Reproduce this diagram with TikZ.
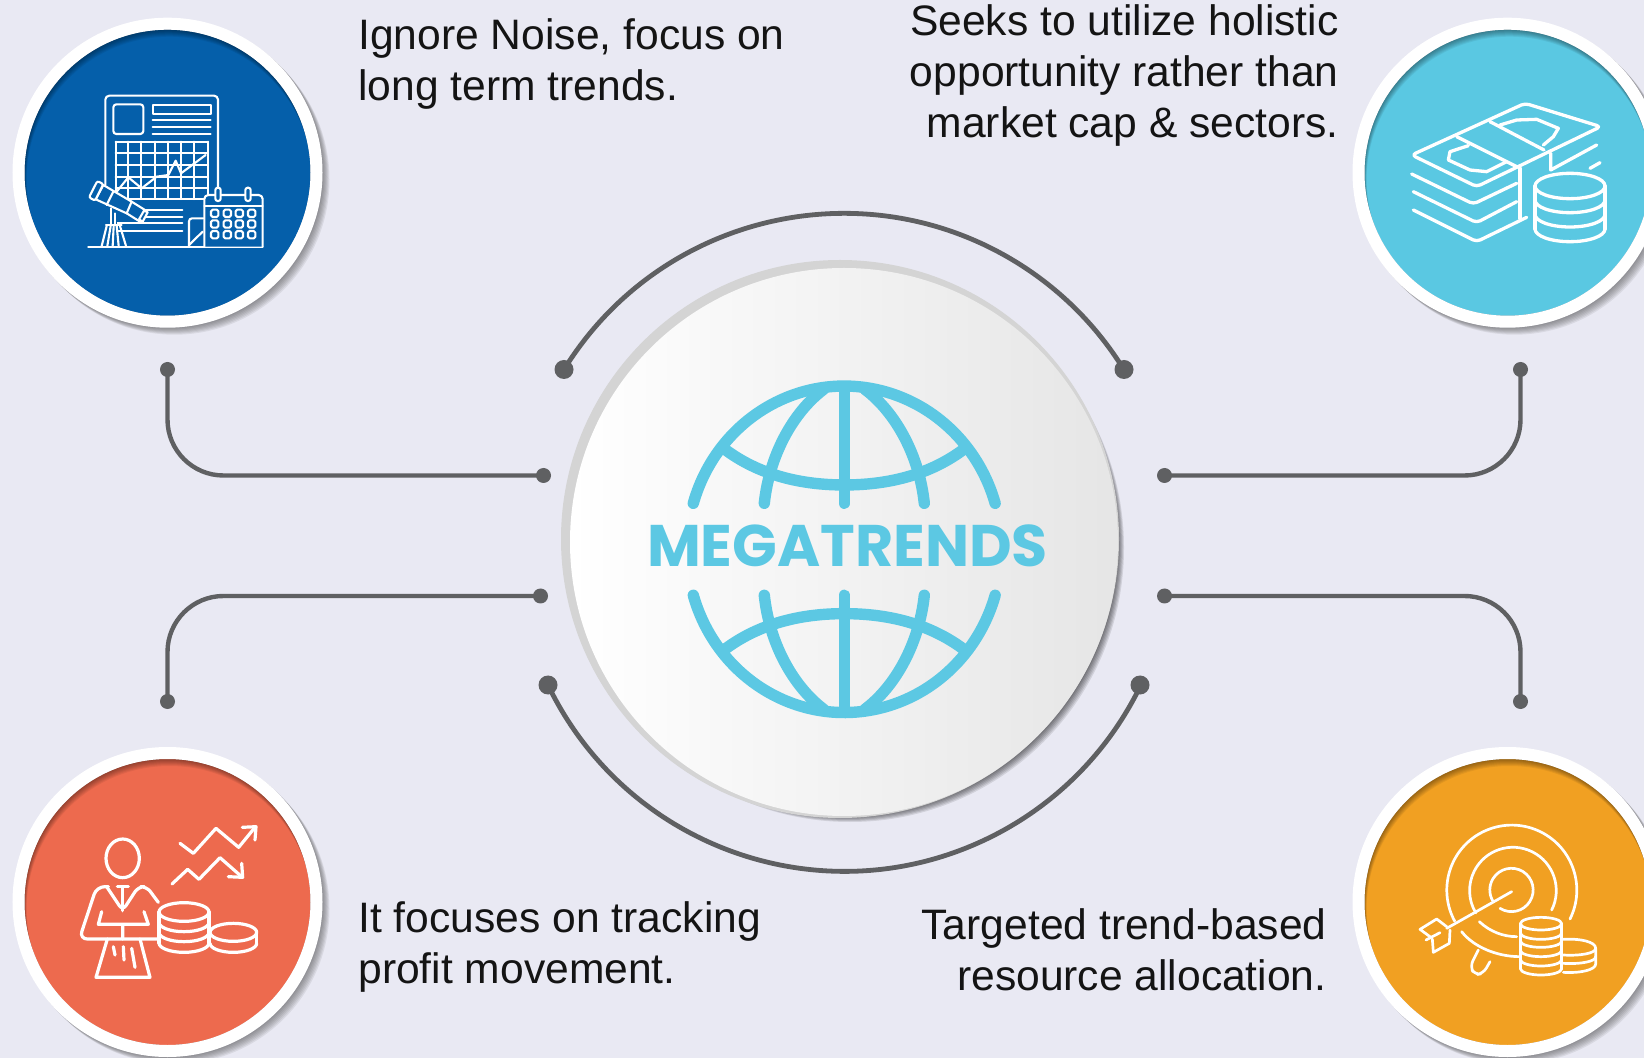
\documentclass[tikz,border=0pt]{standalone}
\usepackage{fontspec}
\setmainfont{Liberation Sans}
\newfontfamily\titlefont{Poppins}
\usetikzlibrary{positioning}

\definecolor{pagebg}{HTML}{E9E9F3}
\definecolor{wiregray}{HTML}{5F6062}
\definecolor{textblack}{HTML}{141414}
\definecolor{globecyan}{HTML}{5CC8E3}
\definecolor{badgeblue}{HTML}{055FAA}
\definecolor{badgecyan}{HTML}{5AC8E2}
\definecolor{badgered}{HTML}{ED6A4E}
\definecolor{badgeorange}{HTML}{F1A022}

\tikzset{
  wire/.style={draw=wiregray,line width=2.2pt,rounded corners=28pt},
  bigwire/.style={draw=wiregray,line width=2.4pt},
  smalldot/.style={circle,fill=wiregray,inner sep=0pt,minimum size=7.5pt},
  bigdot/.style={circle,fill=wiregray,inner sep=0pt,minimum size=9.5pt},
  ring/.style={circle,draw=white,line width=6pt,inner sep=0pt,minimum size=149pt},
  caption/.style={font=\fontsize{21.3pt}{25.6pt}\selectfont,text=textblack,inner sep=0pt},
  zoomed/.style={x=0.16667pt,y=-0.16667pt},
  icon/.style={draw=white,line cap=round,line join=round},
  globeline/.style={draw=globecyan,line width=5.7pt,line cap=round},
}

% shadow, coloured disc with inner shade, white ring
\newcommand{\badge}[4]{
  \foreach \off in {1,...,7}
    \fill[black!70,opacity=.1] (#2+\off,#3+\off) circle[radius=155];
  \fill[#4] (#2,#3) circle[radius=143];
  \begin{scope}
    \clip (#2,#3) circle[radius=143];
    \foreach \off in {1,...,7}
      \draw[black,opacity=.06,line width=20pt] (#2+.3*\off,#3+\off) circle[radius=163];
  \end{scope}
  \node[ring] (#1) at (#2,#3) {};
}

\begin{document}
\begin{tikzpicture}[x=.5pt,y=-.5pt]
  \clip (0,0) rectangle (1644,1058);
  \fill[pagebg] (0,0) rectangle (1644,1058);

  % connector ends
  \node[smalldot] (tlup) at (167.5,369.5) {};
  \node[smalldot] (tlin) at (543.5,475.5) {};
  \node[smalldot] (trup) at (1520.5,369.5) {};
  \node[smalldot] (trin) at (1164.5,475.5) {};
  \node[smalldot] (bldn) at (167.5,701.5) {};
  \node[smalldot] (blin) at (540.5,596) {};
  \node[smalldot] (brdn) at (1520.5,701.5) {};
  \node[smalldot] (brin) at (1164.5,596) {};
  \node[bigdot] (arcA) at (564,369.5) {};
  \node[bigdot] (arcB) at (1124,369.5) {};
  \node[bigdot] (arcC) at (548,685) {};
  \node[bigdot] (arcD) at (1140,685) {};

  \draw[wire] (tlup.center) |- (tlin.center);
  \draw[wire] (trup.center) |- (trin.center);
  \draw[wire] (bldn.center) |- (blin.center);
  \draw[wire] (brdn.center) |- (brin.center);
  \draw[bigwire] (arcA.center) arc[start angle=211.7,end angle=328.3,radius=329];
  \draw[bigwire] (arcC.center) arc[start angle=154.3,end angle=25.7,radius=329];

  % middle disc
  \foreach \off in {1,2,3,4,5,6}
    \fill[black,opacity=.1] (844+\off,542+\off) circle[radius=274];
  \fill[black!17] (840,539) circle[radius=279];
  \node[circle,inner sep=0pt,minimum size=274pt,left color=white,right color=black!10] (hub) at (844,542) {};

  % globe
  \foreach \flip in {1,-1} {
    \begin{scope}[shift={(844.3,549.3)},x=0.16667pt,y=-0.16667pt,yscale=\flip]
      \draw[globeline] (-453,-138) arc[start angle=196.4,end angle=343.6,x radius=472,y radius=490];
      \draw[globeline] (0,-480) -- (0,-138);
      \draw[globeline] (-62,-480) .. controls (-155,-410) and (-225,-280) .. (-240,-138);
      \draw[globeline] (62,-480) .. controls (155,-410) and (225,-280) .. (240,-138);
      \draw[globeline,line cap=butt] (-365,-305) .. controls (-255,-220) and (-125,-193) .. (0,-193) .. controls (125,-193) and (255,-220) .. (365,-305);
    \end{scope}
  }
  \node[inner sep=0pt,text=globecyan] (title) at (847.5,545.5) {\resizebox{200.5pt}{!}{\titlefont\bfseries MEGATRENDS}};

  \badge{plan}{167.5}{172.7}{badgeblue}
  \badge{money}{1507.5}{172.7}{badgecyan}
  \badge{profit}{167.5}{902}{badgered}
  \badge{target}{1507.5}{902}{badgeorange}

  % telescope and calendar icon
  \begin{scope}[zoomed,line width=1.05pt]
    \draw[icon,rounded corners=2pt] (316,555) -- (316,287) -- (654,287) -- (654,570);
    \draw[icon] (316,680) -- (316,740);
    \draw[icon,rounded corners=1.5pt] (340,313) rectangle (430,402);
    \draw[icon] (458,315) rectangle (632,342);
    \foreach \ypos in {360,380,402}
      \draw[icon] (458,\ypos) -- (632,\ypos);
    \foreach \xpos in {347,385,424,464,503,543,583,624}
      \draw[icon] (\xpos,425) -- (\xpos,597);
    \foreach \ypos in {425,460,495,530,565,597}
      \draw[icon] (347,\ypos) -- (624,\ypos);
    \draw[icon] (350,575) -- (385,532) -- (425,565) -- (470,530) -- (505,525) -- (527,482) -- (543,520) -- (617,465);
    \draw[icon] (400,630) -- (547,630) (415,650) -- (547,650) (350,670) -- (547,670) (350,692) -- (547,692);
    \draw[icon,rounded corners=1.5pt] (567,740) -- (567,655) -- (610,655);
    \draw[icon] (567,735) -- (608,695);
    \draw[icon] (265,740) -- (788,740);
    \draw[icon,fill=badgeblue,rounded corners=2pt] (613,740) -- (613,585) -- (788,585) -- (788,740);
    \draw[icon] (613,618) -- (788,618);
    \foreach \xpos in {654,744}
      \draw[icon,fill=badgeblue,rounded corners=1.2pt] (\xpos-8,563) rectangle (\xpos+8,603);
    \foreach \xpos in {644,682,718,755}
      \foreach \ypos in {640,672,704}
        \draw[icon,rounded corners=.8pt] (\xpos-11,\ypos-11) rectangle (\xpos+11,\ypos+11);
    \fill[badgeblue] (312,640) rectangle (350,738);
    \draw[icon] (332,625) -- (332,675) (345,640) -- (345,675);
    \draw[icon,fill=badgeblue] (310,555) -- (395,605) -- (435,630) -- (420,665) -- (380,640) -- (287,598) -- cycle;
    \draw[icon] (340,575) -- (320,615) (395,605) -- (380,640);
    \draw[icon,fill=badgeblue,rounded corners=1pt] (292,543) -- (267,592) -- (285,602) -- (310,552) -- cycle;
    \draw[icon,fill=badgeblue] (432,632) -- (443,637) -- (428,665) -- (417,658) -- cycle;
    \draw[icon] (318,675) -- (365,675);
    \draw[icon] (320,678) -- (305,738) (332,678) -- (322,738) (341,678) -- (338,738) (350,678) -- (356,738) (360,678) -- (378,738);
    \draw[icon] (265,740) -- (400,740);
  \end{scope}

  % banknotes icon
  \begin{scope}[shift={(1340,0)},zoomed,line width=1.65pt]
    \draw[icon,rounded corners=2pt] (215,465) -- (555,310) -- (782,380) -- (410,560) -- cycle;
    \draw[icon] (350,410) -- (530,500) (450,365) -- (612,450);
    \draw[icon] (385,437) -- (330,455) -- (325,480) -- (390,510) -- (440,515) -- (500,485);
    \draw[icon] (480,375) -- (530,360) -- (590,358) -- (655,385) -- (640,410) -- (610,435);
    \draw[icon,rounded corners=2pt] (215,522) -- (400,612) -- (530,550);
    \draw[icon,rounded corners=2pt] (220,575) -- (410,668) -- (530,605);
    \draw[icon,rounded corners=2pt] (220,630) -- (410,725) -- (560,652);
    \draw[icon] (540,505) -- (540,655);
    \draw[icon] (632,460) -- (632,510) -- (770,435) (750,505) -- (780,488);
    \draw[icon] (690,558) ellipse[x radius=105,y radius=38];
    \foreach \ypos in {600,643,687}
      \draw[icon] (585,\ypos) arc[start angle=180,end angle=0,x radius=105,y radius=38];
    \draw[icon] (585,558) -- (585,687) (795,558) -- (795,687);
  \end{scope}

  % person and coins icon
  \begin{scope}[shift={(0,740)},zoomed,line width=1.6pt]
    \draw[icon] (368,355) ellipse[x radius=50,y radius=58];
    \draw[icon,rounded corners=4pt] (325,440) -- (290,440) -- (238,597) -- (475,597);
    \draw[icon,rounded corners=3pt] (320,440) -- (368,512) -- (415,440) -- (440,440) -- (475,487);
    \draw[icon] (352,440) -- (385,440) (368,440) -- (368,512);
    \draw[icon] (305,515) -- (295,553) -- (445,553) -- (432,515) (368,553) -- (368,597);
    \draw[icon] (322,597) -- (288,712) -- (450,712) -- (420,597);
    \draw[icon] (340,620) -- (345,645) (370,620) -- (372,660) (395,625) -- (405,682);
    \draw[icon] (552,516) ellipse[x radius=75,y radius=28];
    \foreach \ypos in {547,577,609}
      \draw[icon] (477,\ypos) arc[start angle=180,end angle=0,x radius=75,y radius=28];
    \draw[icon] (477,516) -- (477,609) (627,516) -- (627,609);
    \draw[icon] (700,577) ellipse[x radius=70,y radius=27];
    \draw[icon] (630,610) arc[start angle=180,end angle=0,x radius=70,y radius=27];
    \draw[icon] (770,577) -- (770,610);
    \draw[icon] (540,310) -- (580,340) -- (648,265) -- (716,322) -- (765,262);
    \draw[icon] (727,262) -- (768,260) -- (765,300);
    \draw[icon] (516,432) -- (563,388) -- (597,418) -- (660,353) -- (725,410);
    \draw[icon] (685,410) -- (728,412) -- (725,370);
  \end{scope}

  % target and coins icon
  \begin{scope}[shift={(1340,740)},zoomed,line width=1.35pt]
    \draw[icon] (690,537) arc[start angle=26.4,end angle=-208.5,radius=195];
    \draw[icon] (365,575) .. controls (400,620) and (470,650) .. (540,650);
    \draw[icon] (635,510) arc[start angle=26.6,end angle=-211,radius=130];
    \draw[icon] (418,545) .. controls (450,575) and (490,590) .. (530,590);
    \draw[icon] (480,505) arc[start angle=122,end angle=-210,radius=65];
    \draw[icon] (515,455) -- (320,565);
    \draw[icon] (320,560) -- (290,537) -- (240,568) -- (270,590);
    \draw[icon] (330,570) -- (328,610) -- (280,637) -- (277,597);
    \draw[icon] (258,600) -- (300,578);
    \draw[icon,rounded corners=3pt] (415,630) -- (390,680) -- (405,705) -- (430,700) -- (450,665);
    \draw[icon] (603,551) ellipse[x radius=62,y radius=19];
    \foreach \ypos in {579,603,631,659,686}
      \draw[icon] (541,\ypos) arc[start angle=180,end angle=0,x radius=62,y radius=19];
    \draw[icon] (541,551) -- (541,686) (665,551) -- (665,686);
    \draw[icon] (670,598) .. controls (720,595) and (767,605) .. (767,625) .. controls (767,640) and (720,648) .. (670,645);
    \draw[icon] (670,670) .. controls (720,673) and (767,665) .. (767,650);
    \draw[icon] (670,697) .. controls (720,700) and (767,690) .. (767,672) -- (767,625);
  \end{scope}

  % captions
  \node[caption,anchor=north west,align=left] (capTL) at (358,18) {Ignore Noise, focus on\\long term trends.};
  \node[caption,anchor=north east,align=right] (capTR) at (1339,4) {Seeks to utilize holistic\\opportunity rather than\\market cap \& sectors.};
  \node[caption,anchor=north west,align=left] (capBL) at (358,901) {It focuses on tracking\\profit movement.};
  \node[caption,anchor=north east,align=right] (capBR) at (1327,908) {Targeted trend-based\\resource allocation.};
\end{tikzpicture}
\end{document}
